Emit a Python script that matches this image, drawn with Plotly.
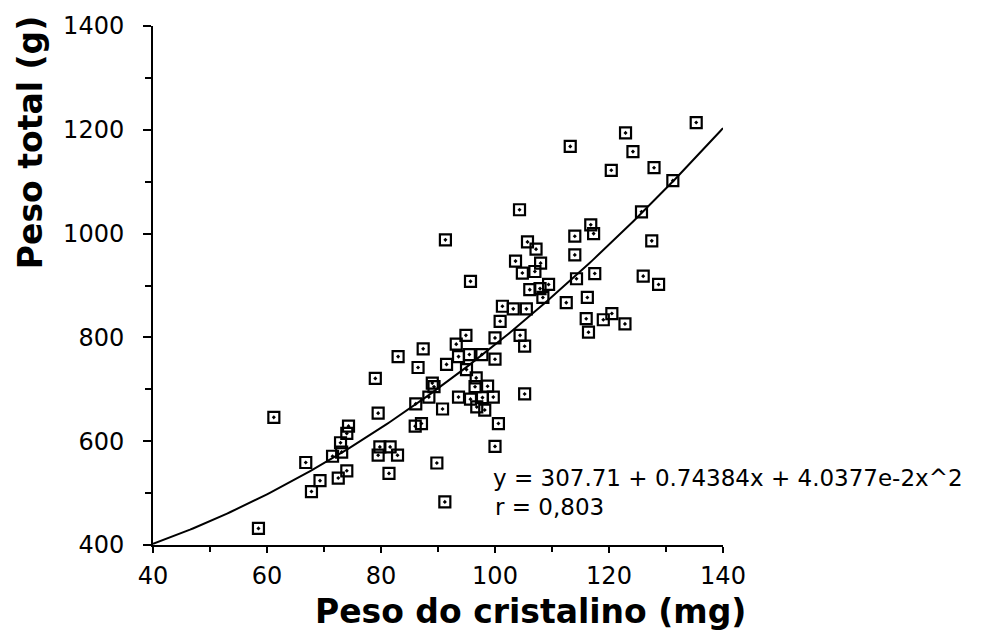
import numpy as np
import plotly.graph_objects as go

# Peso do cristalino (mg)
lens_weight = [
    135.3, 122.9, 113.2, 124.2, 127.9, 120.4, 131.2, 104.3, 125.7, 91.3,
    116.8, 117.3, 114.0, 127.5, 105.7, 107.2, 103.6, 108.0, 114.0, 104.8,
    107.0, 95.7, 114.3, 117.5, 126.0, 128.7, 106.1, 109.4, 107.9, 108.4,
    112.5, 116.2, 101.3, 103.2, 105.5, 100.9, 116.0, 116.4, 119.0, 120.5,
    122.8, 94.9, 100.0, 104.4, 105.2, 93.2, 87.4, 83.0, 93.6, 95.5,
    97.7, 100.0, 91.5, 86.5, 95.0, 79.0, 96.7, 89.0, 89.3, 96.5,
    98.7, 105.2, 93.6, 95.7, 97.8, 99.7, 96.8, 98.2, 86.1, 88.4,
    90.8, 79.5, 61.2, 100.6, 87.1, 86.0, 100.0, 74.3, 74.0, 72.9,
    73.1, 71.5, 66.8, 74.0, 72.5, 69.3, 67.8, 79.8, 81.6, 79.5,
    82.9, 81.4, 89.8, 91.2, 58.5,
]
# Peso total (g)
total_weight = [
    1214, 1194, 1168, 1158, 1127, 1122, 1102, 1046, 1042, 988,
    1017, 1000, 995, 986, 984, 970, 947, 943, 959, 924,
    927, 908, 913, 923, 918, 902, 892, 902, 894, 877,
    867, 877, 860, 855, 855, 831, 836, 810, 834, 846,
    826, 804, 799, 804, 783, 787, 778, 763, 763, 767,
    767, 758, 748, 742, 738, 721, 722, 712, 705, 705,
    706, 691, 685, 681, 684, 685, 666, 660, 672, 685,
    662, 654, 646, 634, 634, 629, 590, 629, 615, 597,
    579, 571, 559, 543, 529, 524, 503, 589, 589, 573,
    573, 538, 558, 483, 432,
]

# Regression coefficients shown on the chart
coef_a = 307.71
coef_b = 0.74384
coef_c = 4.0377e-2
r_value = "0,803"

x_ticks = [40, 60, 80, 100, 120, 140]
y_ticks = [400, 600, 800, 1000, 1200, 1400]

fit_x = np.linspace(40, 140, 201)
fit_y = coef_a + coef_b * fit_x + coef_c * fit_x ** 2

fig = go.Figure()
fig.add_trace(go.Scatter(
    x=fit_x, y=fit_y, mode="lines",
    line=dict(color="black", width=2), showlegend=False, hoverinfo="skip",
))
fig.add_trace(go.Scatter(
    x=lens_weight, y=total_weight, mode="markers",
    marker=dict(symbol="square-open-dot", size=11, color="black",
                line=dict(color="black", width=2.2)),
    showlegend=False,
))

tick_font = dict(family="DejaVu Sans", size=24, color="black")
fig.update_xaxes(
    range=[40, 140], tickvals=x_ticks, ticktext=[str(v) for v in x_ticks],
    showline=True, linecolor="black", linewidth=2, mirror=False,
    ticks="outside", ticklen=6, tickwidth=2, tickcolor="black",
    minor=dict(dtick=10, tick0=40, ticks="outside", ticklen=5, tickwidth=2, tickcolor="black"),
    showgrid=False, zeroline=False, tickfont=tick_font, ticklabelstandoff=2,
)
fig.update_yaxes(
    range=[400, 1400], tickvals=y_ticks, ticktext=[str(v) for v in y_ticks],
    showline=True, linecolor="black", linewidth=2, mirror=False,
    ticks="outside", ticklen=8, tickwidth=2, tickcolor="black",
    minor=dict(dtick=100, tick0=400, ticks="outside", ticklen=6, tickwidth=2, tickcolor="black"),
    showgrid=False, zeroline=False, tickfont=tick_font, ticklabelstandoff=14,
)

title_font = dict(family="DejaVu Sans", size=33, color="black", weight="bold")
fig.add_annotation(
    text="Peso do cristalino (mg)", xref="paper", yref="paper",
    x=0.663, y=-0.128, showarrow=False, font=title_font,
    xanchor="center", yanchor="middle",
)
fig.add_annotation(
    text="Peso total (g)", xref="paper", yref="paper",
    x=-0.216, y=0.776, showarrow=False, font=title_font, textangle=-90,
    xanchor="center", yanchor="middle",
)

eq_font = dict(family="DejaVu Sans", size=23, color="black")
fig.add_annotation(
    text=f"y = {coef_a} + {coef_b}x + 4.0377e-2x^2", xref="x", yref="y",
    x=99.3, y=530, showarrow=False, font=eq_font, xanchor="left", yanchor="middle",
)
fig.add_annotation(
    text=f"r = {r_value}", xref="x", yref="y",
    x=99.7, y=473, showarrow=False, font=eq_font, xanchor="left", yanchor="middle",
)

fig.update_layout(
    width=990, height=638,
    margin=dict(l=153, r=267, t=23, b=93),
    paper_bgcolor="white", plot_bgcolor="white",
)

fig.write_html("out.html")
